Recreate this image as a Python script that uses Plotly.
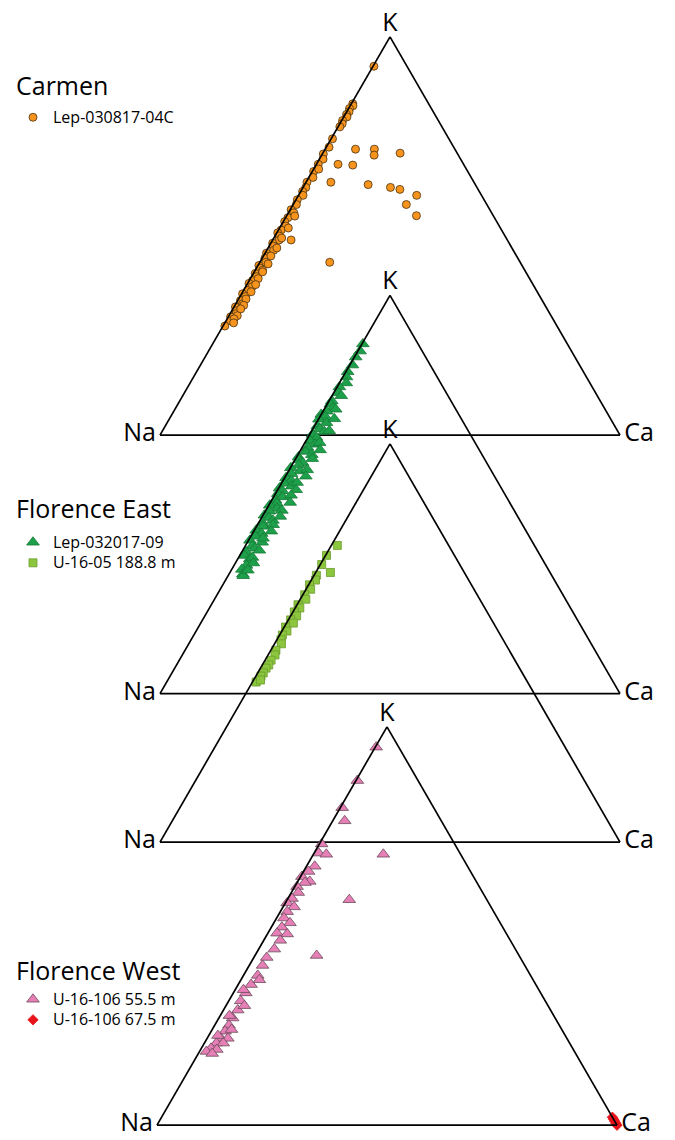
import math
import plotly.graph_objects as go

# ---------------------------------------------------------------
# Feldspar compositions, mol % (K, Ca); Na is the remainder to 100
# ---------------------------------------------------------------

# Carmen - Lep-030817-04C
carmen_k = [92.6, 83.2, 82.7, 82.0, 81.2, 80.5, 79.9, 79.0, 78.2, 77.4, 74.4, 72.3,
            70.6, 69.3, 68.0, 66.2, 64.7, 63.5, 62.2, 61.2, 60.2, 59.1, 57.9, 56.6,
            55.8, 54.6, 53.6, 52.5, 51.5, 50.8, 50.0, 49.0, 48.2, 47.5, 46.4, 45.7,
            44.9, 44.4, 43.4, 42.6, 41.9, 41.4, 40.6, 39.8, 38.8, 38.1, 37.3, 36.3,
            35.5, 34.8, 33.8, 33.0, 32.2, 31.2, 30.5, 29.7, 28.7, 27.4,
            55.0, 52.0, 49.5, 47.0, 45.0, 43.0, 41.0, 39.3, 37.8, 36.0, 34.2, 32.6,
            31.7, 30.0, 29.2, 28.2,
            71.8, 71.8, 70.3, 70.8, 68.0, 67.8, 66.8, 63.5, 62.9, 62.2, 61.7, 60.2,
            57.9, 55.1, 43.4, 49.0]
carmen_ca = [0.2, 0.3, 0.6, 0.2, 0.5, 0.3, 0.7, 0.2, 0.5, 0.4, 0.3, 0.6,
             0.2, 0.8, 0.4, 0.3, 0.9, 0.2, 0.6, 0.4, 1.0, 0.3, 0.7, 0.2,
             1.2, 0.5, 0.3, 1.1, 0.6, 0.2, 0.9, 1.4, 0.4, 0.8, 1.5, 0.3,
             1.0, 0.6, 1.3, 0.2, 0.8, 1.6, 0.4, 1.1, 0.7, 0.3, 1.4, 0.9,
             0.2, 1.2, 0.6, 1.5, 0.3, 0.9, 1.3, 0.5, 1.0, 0.4,
             1.8, 1.9, 1.7, 1.9, 1.6, 2.0, 1.8, 1.7, 1.9, 1.8, 1.6, 1.9,
             1.7, 1.8, 1.5, 1.9,
             6.6, 10.7, 11.4, 16.8, 4.7, 8.0, 1.1, 5.4, 13.8, 19.0, 21.3, 25.7,
             24.6, 28.2, 15.2, 4.0]

# Florence East - Lep-032017-09
fe_lep_k = [87.8, 86.0, 84.5, 82.5, 80.8, 79.5, 78.0, 77.0, 75.5, 74.8, 73.5, 72.7,
            71.8, 71.4, 70.9, 70.1, 69.5, 68.9, 68.0, 67.2, 66.5, 65.8, 65.1, 64.3,
            63.5, 62.6, 61.8, 60.8, 60.0, 59.4, 58.7, 58.0, 57.4, 56.7, 55.9, 55.2,
            54.2, 53.5, 52.8, 52.1, 51.6, 50.9, 50.2, 49.4, 48.6, 47.8, 47.3, 46.5,
            45.8, 44.8, 44.2, 43.5, 42.9, 42.0, 41.0, 40.2, 39.5, 38.5, 38.0, 37.1,
            36.5, 35.6, 34.7, 33.8, 33.4, 32.2, 31.2, 30.0, 29.6,
            69.0, 66.0, 63.0, 61.2, 59.0, 56.2, 54.6, 53.0, 51.2, 49.8, 48.0, 46.0,
            44.5, 42.4, 40.8, 39.0, 36.0, 34.2, 32.8, 31.0]
fe_lep_ca = [0.2, 0.5, 0.3, 0.6, 0.4, 0.8, 1.5, 0.5, 1.0, 2.0, 0.6, 0.7,
             1.8, 2.5, 0.8, 0.0, 1.2, 0.1, 2.2, 0.6, 1.5, 2.8, 0.6, 1.9,
             0.9, 2.4, 1.2, 1.3, 3.0, 0.4, 0.8, 2.0, 1.5, 0.1, 2.5, 1.0,
             0.3, 1.8, 0.6, 2.6, 0.2, 1.2, 0.5, 2.0, 0.8, 1.5, 0.2, 2.2,
             0.9, 0.3, 1.6, 2.8, 0.8, 1.4, 0.4, 2.0, 1.0, 0.3, 3.2, 1.5,
             2.4, 0.9, 1.0, 2.6, 3.1, 2.7, 2.2, 3.0, 3.3,
             3.4, 3.8, 3.2, 4.2, 3.6, 3.9, 4.4, 3.3, 4.0, 3.6, 4.3, 3.5,
             3.9, 3.4, 3.8, 2.9, 3.6, 3.0, 3.9, 3.6]

# Florence East - U-16-05 188.8 m
fe_u16_k = [74.5, 72.0, 69.7, 67.7, 67.0, 65.8, 64.6, 63.5, 62.1, 61.0, 59.6, 58.8,
            57.8, 56.8, 55.8, 55.0, 54.0, 53.0, 52.0, 50.8, 49.8, 48.2, 47.0, 45.7,
            44.5, 43.7, 42.5, 41.7, 40.2, 40.7]
fe_u16_ca = [1.3, 0.2, 0.3, 3.2, 0.5, 0.9, 0.2, 1.0, 0.4, 1.2, 0.2, 1.0,
             0.3, 1.3, 0.5, 1.5, 0.3, 1.1, 0.6, 0.9, 1.5, 1.1, 1.5, 1.3,
             1.4, 1.2, 1.2, 1.1, 0.8, 1.5]

# Florence West - U-16-106 55.5 m
fw_555_k = [94.9, 86.5, 79.7, 76.4, 70.6, 68.3, 68.0, 68.0, 65.0, 63.7, 62.4, 61.2,
            60.9, 59.9, 58.4, 56.9, 56.6, 55.8, 54.8, 53.6, 52.0, 50.8, 49.7, 48.2,
            48.0, 46.4, 44.2, 42.6, 42.1, 40.1, 37.6, 35.3, 33.2, 31.2, 28.9, 26.9,
            25.1, 23.6, 21.8, 21.8, 20.6, 20.6, 19.3, 19.0, 22.5, 24.0, 27.5, 30.0,
            34.0, 36.5, 18.5, 18.0]
fw_555_ca = [0.2, 0.3, 0.4, 2.6, 0.5, 1.0, 15.2, 2.8, 1.8, 1.1, 0.3, 2.6,
             1.7, 0.5, 1.5, 0.9, 13.5, 0.4, 2.4, 1.5, 1.6, 3.5, 2.3, 2.0,
             4.3, 3.6, 3.4, 13.4, 2.8, 2.9, 3.1, 2.8, 2.7, 2.6, 3.1, 3.0,
             3.1, 3.0, 3.0, 4.5, 2.6, 4.1, 2.1, 3.5, 2.0, 4.2, 2.0, 4.0,
             1.8, 4.0, 1.5, 3.0]

# Florence West - U-16-106 67.5 m
fw_675_k = [0.0, 0.5, 1.0, 1.5, 2.0]
fw_675_ca = [100.0, 99.5, 99.0, 98.5, 98.0]

apex_labels = ["K", "Na\u2009", "\u2009Ca"]
group_titles = ["Carmen", "Florence East", "Florence West"]

FONT = "Open Sans, Noto Sans, sans-serif"
W, H = 675, 1140
SIDE = 460.0


def na_of(k, ca):
    return [round(100.0 - a - c, 2) for a, c in zip(k, ca)]


def ternary_layout(cx, cy):
    """Ternary subplot whose triangle is centred on pixel (cx, cy)."""
    h = SIDE * math.sqrt(3) / 2
    hmax = h + 12
    axis = dict(showticklabels=False, ticks="", showgrid=False, showline=True,
                linecolor="black", linewidth=1.7, title=dict(text=""))
    return dict(
        domain=dict(x=[(cx - SIDE / 2) / W, (cx + SIDE / 2) / W],
                    y=[1 - (cy + hmax / 2) / H, 1 - (cy - hmax / 2) / H]),
        sum=100, bgcolor="rgba(0,0,0,0)",
        aaxis=axis, baxis=axis, caxis=axis,
    )


fig = go.Figure()


def entry(label):
    return "<span style='font-size:16px'>" + label + "</span>"


def add_points(subplot, k, ca, name, legend, symbol, size, color, line_color):
    fig.add_trace(go.Scatterternary(
        a=k, b=na_of(k, ca), c=ca, mode="markers", name=entry(name), legend=legend,
        subplot=subplot, cliponaxis=False,
        marker=dict(symbol=symbol, size=size, color=color,
                    line=dict(color=line_color, width=0.8)),
    ))


def add_apex_labels(subplot):
    fig.add_trace(go.Scatterternary(
        a=[100, 0, 0], b=[0, 100, 0], c=[0, 0, 100], mode="text",
        text=apex_labels, subplot=subplot, cliponaxis=False,
        textposition=["top center", "middle left", "middle right"],
        textfont=dict(family=FONT, size=25, color="black"),
        showlegend=False, hoverinfo="skip",
    ))


add_points("ternary", carmen_k, carmen_ca, "Lep-030817-04C", "legend",
           "circle", 8, "#F7941D", "#4a3210")
add_points("ternary2", fe_lep_k, fe_lep_ca, "Lep-032017-09", "legend2",
           "triangle-up", 11, "#1E9F4A", "#157a36")
add_points("ternary3", fe_u16_k, fe_u16_ca, "U-16-05 188.8 m", "legend2",
           "square", 8, "#8CC63F", "#6b9c2c")
add_points("ternary4", fw_555_k, fw_555_ca, "U-16-106 55.5 m", "legend3",
           "triangle-up", 11, "#E57FB5", "#6b4a5c")
add_points("ternary4", fw_675_k, fw_675_ca, "U-16-106 67.5 m", "legend3",
           "diamond", 8, "#E8141B", "#E8141B")

for sp in ["ternary", "ternary2", "ternary3", "ternary4"]:
    add_apex_labels(sp)


def legend_box(y_px):
    return dict(
        x=13 / W, y=1 - y_px / H, xanchor="left", yanchor="top",
        font=dict(family=FONT, size=13.5, color="black"),
        bgcolor="rgba(0,0,0,0)", borderwidth=0, tracegroupgap=0,
        itemsizing="trace",
    )


# group headings above each legend block
title_rows = [85, 508, 970]
annotations = [
    dict(text=t, x=14 / W, y=1 - yy / H, xref="paper", yref="paper",
         xanchor="left", yanchor="middle", showarrow=False,
         font=dict(family=FONT, size=25, color="black"))
    for t, yy in zip(group_titles, title_rows)
]

fig.update_layout(
    width=W, height=H,
    margin=dict(l=0, r=0, t=0, b=0),
    paper_bgcolor="white", plot_bgcolor="white",
    font=dict(family=FONT, color="black"),
    ternary=ternary_layout(390, 236),
    ternary2=ternary_layout(390, 494.5),
    ternary3=ternary_layout(390, 643),
    ternary4=ternary_layout(387, 926),
    legend=legend_box(102),
    legend2=legend_box(527),
    legend3=legend_box(984),
    annotations=annotations,
)

fig.write_html("out.html")
